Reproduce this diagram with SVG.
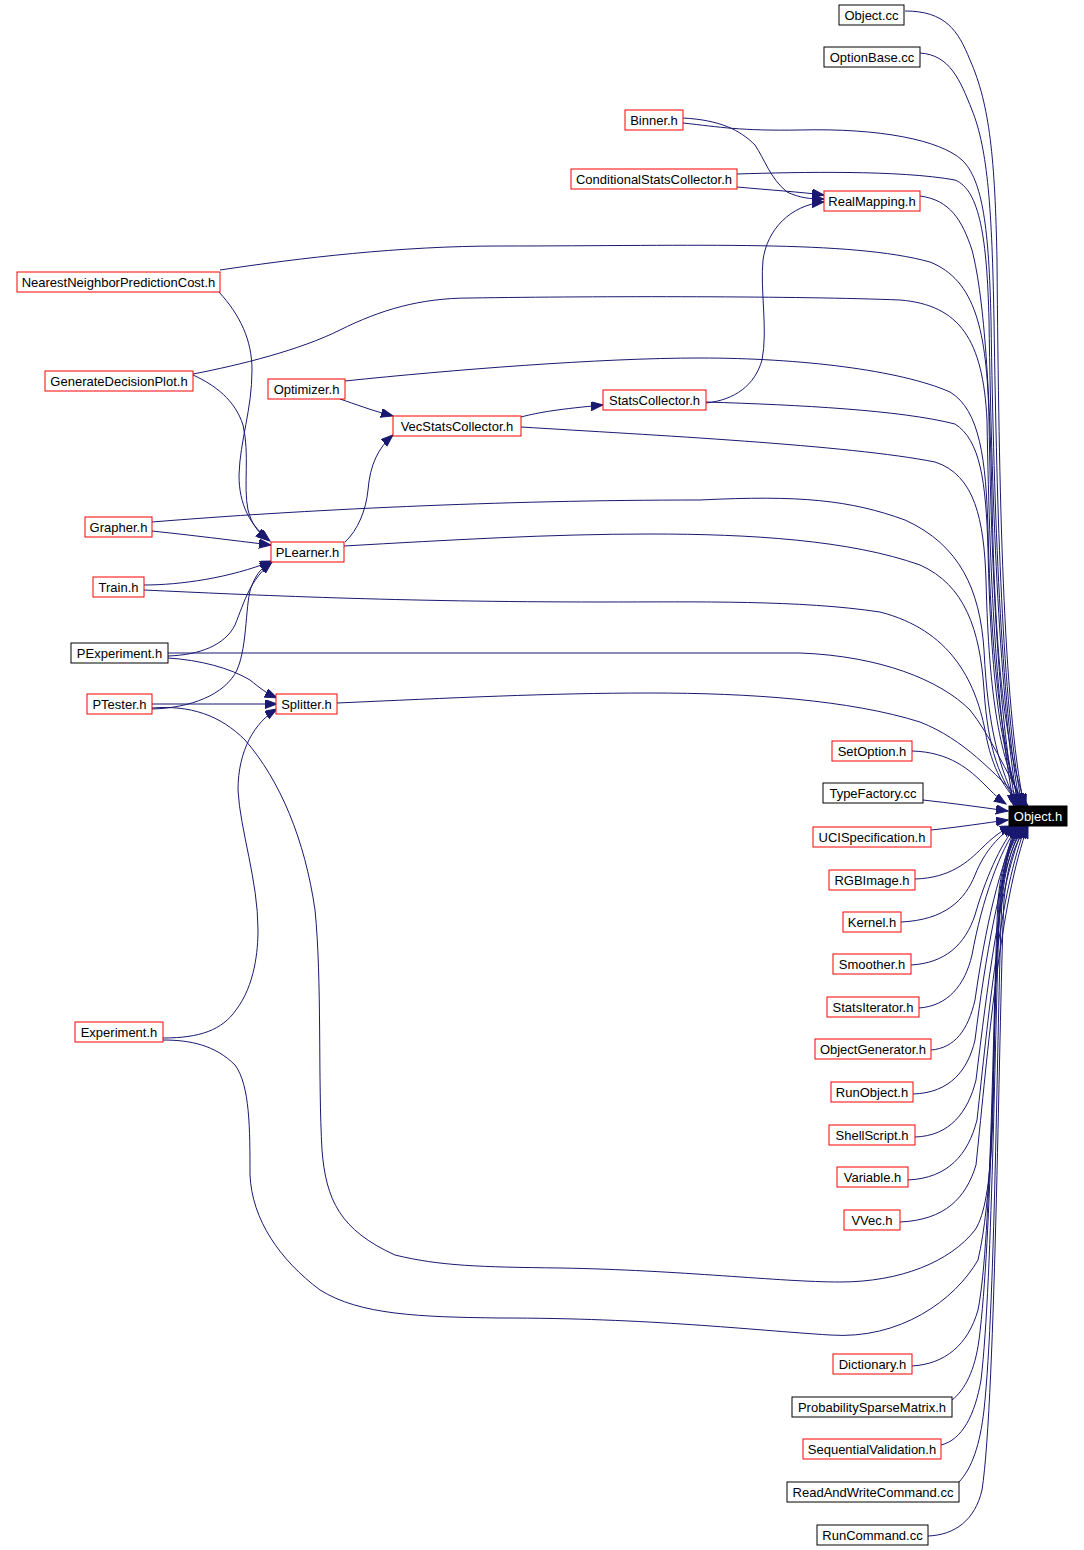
<svg xmlns="http://www.w3.org/2000/svg" width="1084" height="1550" viewBox="0 0 1084 1550">
<style>
.n rect{fill:#fff;stroke:#ff0000;stroke-width:1}
.n.b rect{stroke:#000}
.n.root rect{fill:#000;stroke:#000}
.n text{font-family:"Liberation Sans",Arial,sans-serif;font-size:13px;fill:#000;text-anchor:middle}
.n.root text{fill:#fff}
#edges path{fill:none;stroke:#191970;stroke-width:1;marker-end:url(#ah)}
</style>
<defs>
<marker id="ah" markerUnits="userSpaceOnUse" markerWidth="14" markerHeight="10" refX="12" refY="4.5" orient="auto">
<path d="M0,0 L12,4.5 L0,9 z" fill="#191970" stroke="#191970" stroke-width="1"/>
</marker>
</defs>
<rect width="1084" height="1550" fill="#fff"/>
<g id="edges">
<path d="M905,11 C945,11 958,30 970,60 C990,105 995,160 997,260 C999,500 1003,700 1024,806"/>
<path d="M920,53 C950,55 960,80 972,110 C988,150 992,210 994,320 C997,520 1002,700 1022,806"/>
<path d="M683,123 C720,127 740,131 800,130 C880,128 940,140 962,160 C983,180 989,230 991,320 C994,520 1001,700 1020,806"/>
<path d="M737,174 C800,172 900,170 955,180 C980,190 987,240 989,320 C992,520 1000,700 1018,806"/>
<path d="M920,196 C950,200 962,220 972,250 C985,300 990,400 992,500 C995,650 1003,740 1026,806"/>
<path d="M220,270 C300,258 400,246 500,246 C700,246 850,240 930,262 C975,280 987,330 989,420 C992,600 1000,720 1016,806"/>
<path d="M193,374 C240,365 300,350 340,330 C380,310 420,298 470,298 C600,296 800,296 900,300 C960,305 983,340 987,420 C990,600 998,720 1014,806"/>
<path d="M345,381 C450,370 600,358 700,358 C800,358 900,370 950,392 C980,410 986,460 988,530 C991,650 1000,740 1020,806"/>
<path d="M706,402 C800,405 900,410 955,424 C980,440 986,480 988,550 C991,680 1000,750 1022,806"/>
<path d="M521,427 C650,435 850,445 935,462 C975,475 984,520 986,580 C989,700 1000,760 1024,806"/>
<path d="M152,522 C300,510 500,500 700,500 C800,495 850,500 905,520 C960,545 980,590 984,650 C988,730 1000,770 1018,806"/>
<path d="M344,546 C450,540 550,534 650,534 C750,534 850,540 920,565 C965,585 980,630 984,690 C988,750 1000,780 1020,806"/>
<path d="M144,590 C250,595 400,602 600,602 C700,602 800,600 880,612 C950,630 975,680 985,730 C992,770 1005,790 1022,806"/>
<path d="M168,653 L800,653 C880,656 940,680 970,710 C990,735 1005,770 1026,806"/>
<path d="M337,703 C450,698 550,693 650,693 C750,693 850,700 920,722 C965,740 990,770 1028,806"/>
<path d="M912,751 C950,752 970,770 985,785 C993,793 1000,800 1006,804"/>
<path d="M923,800 C950,803 980,807 1008,811"/>
<path d="M931,830 C960,827 985,823 1008,820"/>
<path d="M915,879 C950,878 968,862 982,848 C992,838 1002,830 1012,826"/>
<path d="M901,922 C945,920 965,900 975,875 C985,850 1000,835 1014,826"/>
<path d="M911,965 C945,963 965,945 975,915 C985,880 1000,845 1016,826"/>
<path d="M919,1008 C948,1006 965,985 972,955 C982,900 1000,850 1018,826"/>
<path d="M931,1050 C955,1048 968,1030 975,1000 C985,930 1000,860 1020,826"/>
<path d="M913,1094 C950,1093 968,1070 975,1040 C985,960 1000,870 1022,826"/>
<path d="M915,1137 C950,1136 968,1112 976,1080 C987,990 1000,880 1024,826"/>
<path d="M908,1180 C948,1178 968,1155 977,1120 C988,1020 1000,890 1026,826"/>
<path d="M900,1222 C945,1220 966,1198 976,1165 C988,1050 1000,900 1028,826"/>
<path d="M152,708 C190,705 220,715 245,740 C280,780 305,840 315,910 C322,980 318,1080 322,1150 C326,1200 340,1230 395,1255 C440,1266 480,1267 560,1268 C680,1270 780,1282 840,1282 C900,1282 950,1262 975,1230 C995,1200 993,1100 995,1000 C998,900 1005,850 1016,826"/>
<path d="M163,1040 C190,1040 215,1045 235,1065 C250,1085 250,1130 250,1175 C252,1220 280,1260 320,1290 C360,1315 420,1317 500,1318 C650,1318 750,1330 830,1335 C900,1340 955,1300 978,1260 C992,1200 993,1100 995,1000 C998,900 1006,850 1018,826"/>
<path d="M912,1366 C945,1364 968,1345 978,1310 C992,1240 993,1000 998,900 C1002,860 1010,840 1020,826"/>
<path d="M952,1400 C965,1390 975,1370 979,1340 C992,1240 994,1000 999,900 C1003,860 1012,840 1022,826"/>
<path d="M941,1445 C962,1440 975,1415 981,1380 C993,1280 995,1000 1000,900 C1004,860 1012,840 1024,826"/>
<path d="M959,1482 C972,1468 980,1445 984,1410 C996,1300 997,1000 1002,900 C1006,860 1014,840 1026,826"/>
<path d="M928,1536 C955,1535 975,1520 982,1490 C996,1400 999,1000 1004,900 C1008,860 1016,840 1028,826"/>
<path d="M683,118 C720,120 740,130 755,145 C765,160 770,178 787,192 C800,198 810,199 824,199"/>
<path d="M737,187 C770,190 800,192 824,195"/>
<path d="M706,403 C735,400 755,385 762,360 C768,330 760,290 763,260 C767,230 790,205 824,202"/>
<path d="M219,292 C240,315 252,340 252,370 C252,410 240,440 239,475 C239,505 250,525 270,541"/>
<path d="M193,375 C215,385 235,400 243,425 C250,455 243,485 248,510 C252,525 258,532 268,540"/>
<path d="M152,531 C190,535 230,540 271,545"/>
<path d="M340,399 C355,404 370,410 393,416"/>
<path d="M345,542 C358,530 366,510 368,490 C370,465 378,448 393,435"/>
<path d="M521,417 C540,412 560,409 603,405"/>
<path d="M144,585 C180,585 230,578 272,561"/>
<path d="M168,656 C200,655 225,645 235,625 C245,600 250,580 272,562"/>
<path d="M152,709 C190,708 225,695 237,670 C248,645 245,600 252,585 C257,573 262,567 272,562"/>
<path d="M168,658 C200,660 230,668 250,680 C260,688 266,693 277,698"/>
<path d="M152,704 L277,704"/>
<path d="M163,1038 C200,1038 222,1030 236,1010 C255,985 258,950 258,930 C258,880 240,830 238,790 C238,750 255,722 277,709"/>
</g>
<g id="n_objh" class="n root"><rect x="1009" y="806" width="58" height="20"/><text x="1038" y="820.5">Object.h</text></g>
<g id="n_objcc" class="n b"><rect x="839" y="5" width="65" height="20"/><text x="871.5" y="19.5">Object.cc</text></g>
<g id="n_optbase" class="n b"><rect x="824" y="47" width="96" height="20"/><text x="872" y="61.5">OptionBase.cc</text></g>
<g id="n_binner" class="n"><rect x="625" y="110" width="58" height="20"/><text x="654" y="124.5">Binner.h</text></g>
<g id="n_condstats" class="n"><rect x="571" y="169" width="166" height="20"/><text x="654" y="183.5">ConditionalStatsCollector.h</text></g>
<g id="n_realmap" class="n"><rect x="824" y="191" width="96" height="20"/><text x="872" y="205.5">RealMapping.h</text></g>
<g id="n_nearest" class="n"><rect x="17" y="272" width="203" height="20"/><text x="118.5" y="286.5">NearestNeighborPredictionCost.h</text></g>
<g id="n_gendec" class="n"><rect x="45" y="371" width="148" height="20"/><text x="119" y="385.5">GenerateDecisionPlot.h</text></g>
<g id="n_optim" class="n"><rect x="268" y="379" width="77" height="20"/><text x="306.5" y="393.5">Optimizer.h</text></g>
<g id="n_vecstats" class="n"><rect x="393" y="416" width="128" height="20"/><text x="457" y="430.5">VecStatsCollector.h</text></g>
<g id="n_statscoll" class="n"><rect x="603" y="390" width="103" height="20"/><text x="654.5" y="404.5">StatsCollector.h</text></g>
<g id="n_grapher" class="n"><rect x="85" y="517" width="67" height="20"/><text x="118.5" y="531.5">Grapher.h</text></g>
<g id="n_plearner" class="n"><rect x="271" y="542" width="73" height="20"/><text x="307.5" y="556.5">PLearner.h</text></g>
<g id="n_train" class="n"><rect x="93" y="577" width="51" height="20"/><text x="118.5" y="591.5">Train.h</text></g>
<g id="n_pexp" class="n b"><rect x="71" y="643" width="97" height="20"/><text x="119.5" y="657.5">PExperiment.h</text></g>
<g id="n_ptester" class="n"><rect x="87" y="694" width="65" height="20"/><text x="119.5" y="708.5">PTester.h</text></g>
<g id="n_splitter" class="n"><rect x="276" y="694" width="61" height="20"/><text x="306.5" y="708.5">Splitter.h</text></g>
<g id="n_experiment" class="n"><rect x="75" y="1022" width="88" height="20"/><text x="119" y="1036.5">Experiment.h</text></g>
<g id="n_setopt" class="n"><rect x="832" y="741" width="80" height="20"/><text x="872" y="755.5">SetOption.h</text></g>
<g id="n_typefac" class="n b"><rect x="823" y="783" width="100" height="20"/><text x="873" y="797.5">TypeFactory.cc</text></g>
<g id="n_uci" class="n"><rect x="813" y="827" width="118" height="20"/><text x="872" y="841.5">UCISpecification.h</text></g>
<g id="n_rgb" class="n"><rect x="829" y="870" width="86" height="20"/><text x="872" y="884.5">RGBImage.h</text></g>
<g id="n_kernel" class="n"><rect x="843" y="912" width="58" height="20"/><text x="872" y="926.5">Kernel.h</text></g>
<g id="n_smoother" class="n"><rect x="833" y="954" width="78" height="20"/><text x="872" y="968.5">Smoother.h</text></g>
<g id="n_statsiter" class="n"><rect x="827" y="997" width="92" height="20"/><text x="873" y="1011.5">StatsIterator.h</text></g>
<g id="n_objgen" class="n"><rect x="815" y="1039" width="116" height="20"/><text x="873" y="1053.5">ObjectGenerator.h</text></g>
<g id="n_runobj" class="n"><rect x="831" y="1082" width="82" height="20"/><text x="872" y="1096.5">RunObject.h</text></g>
<g id="n_shell" class="n"><rect x="829" y="1125" width="86" height="20"/><text x="872" y="1139.5">ShellScript.h</text></g>
<g id="n_variable" class="n"><rect x="837" y="1167" width="71" height="20"/><text x="872.5" y="1181.5">Variable.h</text></g>
<g id="n_vvec" class="n"><rect x="844" y="1210" width="56" height="20"/><text x="872" y="1224.5">VVec.h</text></g>
<g id="n_dict" class="n"><rect x="833" y="1354" width="79" height="20"/><text x="872.5" y="1368.5">Dictionary.h</text></g>
<g id="n_probsparse" class="n b"><rect x="792" y="1397" width="160" height="20"/><text x="872" y="1411.5">ProbabilitySparseMatrix.h</text></g>
<g id="n_seqval" class="n"><rect x="803" y="1439" width="138" height="20"/><text x="872" y="1453.5">SequentialValidation.h</text></g>
<g id="n_rwcmd" class="n b"><rect x="787" y="1482" width="172" height="20"/><text x="873" y="1496.5">ReadAndWriteCommand.cc</text></g>
<g id="n_runcmd" class="n b"><rect x="817" y="1525" width="111" height="20"/><text x="872.5" y="1539.5">RunCommand.cc</text></g>
</svg>
